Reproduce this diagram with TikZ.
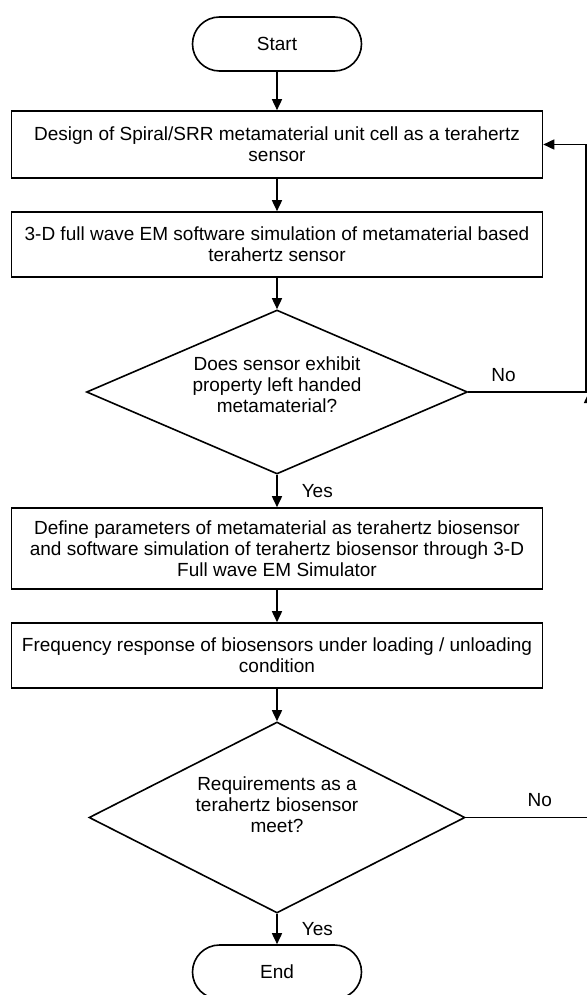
\documentclass[tikz,border=0pt]{standalone}
\usepackage{fontspec}
\setmainfont{Liberation Sans}
\usepackage{tikz}
\usetikzlibrary{positioning,arrows.meta,shapes.geometric,shapes.misc}
\tikzset{
  termnode/.style={draw, rounded rectangle, minimum width=169pt,
                   minimum height=54pt, inner sep=0pt},
  procnode/.style={draw, rectangle, minimum width=531pt, align=center,
                   inner sep=0pt},
  decnode/.style={draw, diamond, align=center, inner sep=0pt},
  answer/.style={inner sep=0pt},
  flowarrow/.style={-{Triangle[length=11pt, width=10pt]}},
}

\begin{document}
\begin{tikzpicture}[
  x=1pt, y=-1pt,
  line width=1.6pt,
  font=\fontsize{19}{21}\selectfont
]
\path[use as bounding box, fill=white] (0,0) rectangle (586,995);
%% Nodes
\node[termnode] (start) at (277,44) {Start};
\node[procnode, minimum height=67pt] (design) at (277,144.5)
  {Design of Spiral/SRR metamaterial unit cell as a terahertz\\sensor};
\node[procnode, minimum height=65pt] (fullwave) at (277,244.5)
  {3-D full wave EM software simulation of metamaterial based\\terahertz sensor};
\node[decnode, aspect=2.32, minimum width=381pt, minimum height=164pt,
      text depth=14pt] (lhm) at (277,392)
  {Does sensor exhibit\\property left handed\\metamaterial?};
\node[procnode, minimum height=81pt] (params) at (277,548.5)
  {Define parameters of metamaterial as terahertz biosensor\\and software
   simulation of terahertz biosensor through 3-D\\Full wave EM Simulator};
\node[procnode, minimum height=65pt] (freqresp) at (277,655.5)
  {Frequency response of biosensors under loading / unloading\\condition};
\node[decnode, aspect=1.97, minimum width=376pt, minimum height=191pt,
      text depth=25pt] (reqmet) at (277,817.5)
  {Requirements as a\\terahertz biosensor\\meet?};
\node[termnode] (finish) at (277,972) {End};
%% Loop corners at the right edge
\coordinate (loopR) at (586,392);
\coordinate (loopS) at (589,392);
%% Edges
\draw[flowarrow] (start) -- (design);
\draw[flowarrow] (design) -- (fullwave);
\draw[flowarrow] (fullwave) -- (lhm);
\draw[flowarrow] (lhm) -- node[answer, right=24pt] {Yes} (params);
\draw[flowarrow] (params) -- (freqresp);
\draw[flowarrow] (freqresp) -- (reqmet);
\draw[flowarrow] (reqmet) -- node[answer, right=24pt] {Yes} (finish);
\draw[flowarrow] (lhm.east) -- node[answer, above=10pt, pos=0.3] {No} (loopR)
  |- (design.east);
\draw[flowarrow] (reqmet.east) -- node[answer, above=10pt, pos=0.6] {No}
  (reqmet.east -| loopS) -- (loopS);
\end{tikzpicture}
\end{document}
